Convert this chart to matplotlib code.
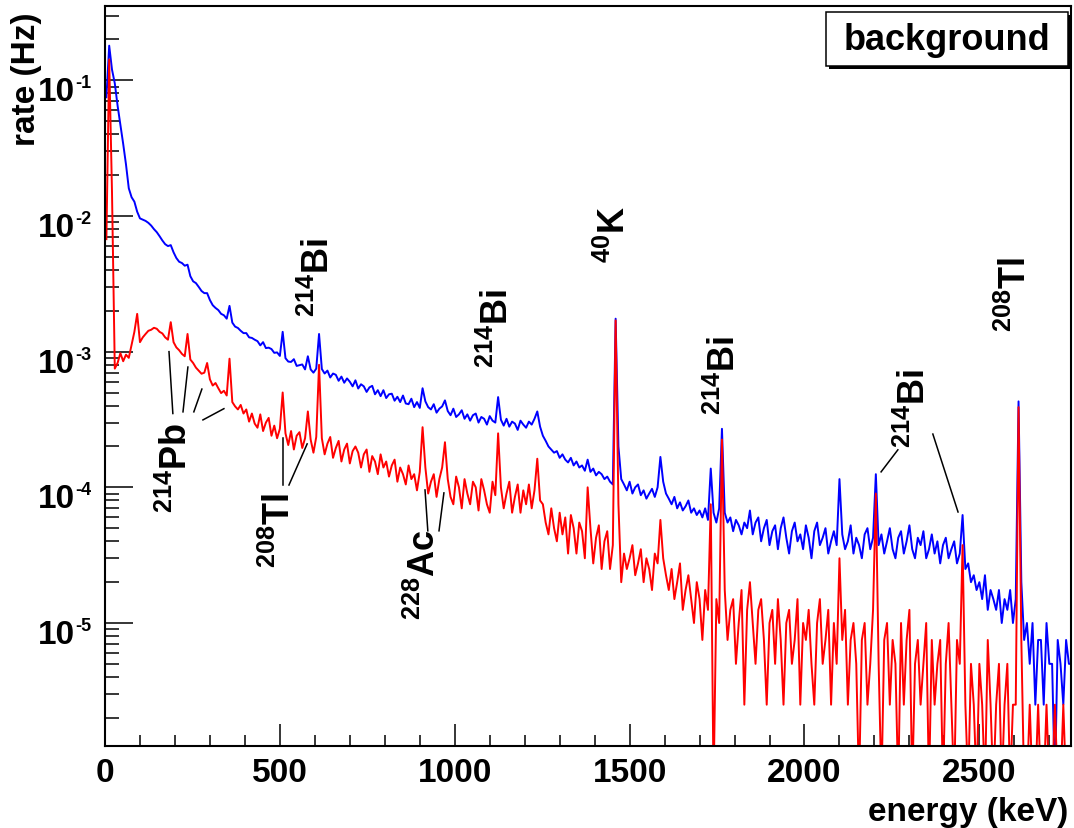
import numpy as np
import matplotlib
matplotlib.use('Agg')
import matplotlib.pyplot as plt
from matplotlib.patches import Rectangle
from matplotlib.ticker import LogLocator, NullFormatter
from matplotlib.transforms import offset_copy

plt.rcParams['font.family'] = ['Liberation Sans', 'DejaVu Sans']
plt.rcParams['font.weight'] = 'bold'
plt.rcParams['mathtext.fontset'] = 'custom'
plt.rcParams['mathtext.rm'] = 'Liberation Sans'
plt.rcParams['mathtext.bf'] = 'Liberation Sans:bold'

# spectra in 8 keV bins starting at 0 keV, contents in counts
BIN_KEV = 8
COUNT_RATE = 2.5e-6  # Hz per count

blue_counts = [
    30000, 72000, 48000, 38000, 26000, 18800, 13600, 9600, 6400, 5500,   # 0
    5100, 4300, 3840, 3760, 3680, 3560, 3400, 3200, 3040, 2840,          # 80
    2640, 2480, 2400, 2440, 2160, 1960, 1840, 1800, 1720, 1750,          # 160
    1440, 1320, 1280, 1200, 1120, 1080, 1080, 960, 880, 840,             # 240
    810, 760, 742, 700, 870, 655, 612, 598, 570, 548,                    # 320
    548, 510, 505, 490, 478, 445, 470, 425, 428, 418,                    # 400
    392, 395, 372, 560, 358, 338, 336, 352, 314, 318,                    # 480
    322, 296, 370, 296, 280, 300, 540, 298, 276, 290,                    # 560
    258, 276, 270, 244, 262, 236, 254, 240, 222, 246,                    # 640
    214, 230, 222, 202, 218, 224, 194, 208, 188, 208,                    # 720
    182, 194, 196, 174, 186, 170, 190, 166, 164, 180,                    # 800
    156, 170, 154, 215, 172, 156, 150, 164, 142, 152,                    # 880
    158, 175, 146, 136, 152, 132, 138, 148, 128, 138,                    # 960
    124, 136, 140, 120, 132, 128, 116, 134, 124, 120,                    # 1040
    185, 126, 114, 128, 112, 122, 118, 106, 124, 116,                    # 1120
    110, 122, 116, 128, 145, 112, 96, 88, 80, 76,                        # 1200
    72, 74, 66, 70, 64, 61, 66, 58, 62, 56,                              # 1280
    58, 53, 64, 52, 55, 49, 52, 50, 46, 48,                              # 1360
    44, 42, 700, 80, 46, 42, 38, 44, 36, 40,                             # 1440
    42, 35, 38, 33, 36, 39, 34, 40, 67, 44,                              # 1520
    36, 33, 30, 34, 28, 31, 27, 29, 32, 26,                              # 1600
    28, 25, 27, 24, 28, 23, 55, 26, 22, 28,                              # 1680
    108, 26, 22, 24, 19, 23, 21, 18, 22, 20,                             # 1760
    27, 18, 22, 24, 16, 20, 23, 15, 19, 21,                              # 1840
    14, 20, 24, 17, 13, 19, 22, 16, 18, 14,                              # 1920
    21, 17, 12, 19, 22, 15, 17, 20, 13, 16,                              # 2000
    19, 15, 46, 18, 14, 16, 21, 13, 17, 15,                              # 2080
    12, 18, 20, 14, 17, 50, 15, 18, 13, 16,                              # 2160
    20, 14, 12, 17, 19, 13, 16, 21, 14, 12,                              # 2240
    17, 15, 19, 12, 14, 18, 13, 16, 11, 15,                              # 2320
    17, 12, 14, 16, 11, 13, 25, 10, 11, 8,                               # 2400
    9, 7, 8, 6, 9, 5, 7, 6, 5, 7,                                        # 2480
    4, 6, 5, 7, 4, 6, 172, 8, 3, 4,                                      # 2560
    2, 4, 1, 3, 3, 1, 4, 2, 2, 0,                                        # 2640
    3, 2, 1, 3, 2, 2,                                                    # 2720
]

red_counts = [
    2700, 57000, 6000, 300, 330, 390, 340, 380, 360, 450,                # 0
    560, 760, 470, 510, 540, 570, 580, 600, 590, 560,                    # 80
    545, 510, 490, 660, 470, 430, 410, 385, 370, 540,                    # 160
    350, 330, 305, 290, 275, 280, 330, 250, 225, 235,                    # 240
    215, 198, 206, 190, 355, 170, 158, 150, 162, 140,                    # 320
    150, 122, 140, 118, 110, 138, 104, 120, 130, 96,                     # 400
    114, 92, 108, 200, 100, 82, 104, 76, 96, 102,                        # 480
    78, 92, 145, 90, 72, 94, 320, 92, 70, 84,                            # 560
    94, 66, 78, 88, 62, 76, 84, 60, 74, 80,                              # 640
    72, 56, 70, 76, 52, 68, 62, 50, 70, 56,                              # 720
    62, 48, 58, 64, 44, 56, 50, 42, 58, 46,                              # 800
    50, 38, 52, 111, 56, 36, 44, 50, 34, 46,                             # 880
    56, 86, 46, 34, 30, 48, 40, 28, 46, 36,                              # 960
    30, 44, 40, 27, 46, 38, 30, 26, 44, 35,                              # 1040
    100, 40, 28, 36, 44, 26, 34, 42, 26, 38,                             # 1120
    30, 42, 28, 38, 65, 32, 30, 22, 18, 28,                              # 1200
    20, 16, 26, 18, 24, 13, 25, 20, 13, 22,                              # 1280
    19, 12, 40, 20, 11, 17, 21, 10, 16, 19,                              # 1360
    10, 15, 680, 30, 8, 13, 10, 12, 15, 9,                               # 1440
    11, 14, 8, 12, 10, 7, 13, 11, 23, 12,                                # 1520
    9, 7, 10, 6, 8, 11, 5, 7, 9, 6,                                      # 1600
    4, 8, 6, 3, 7, 5, 30, 0, 6, 4,                                       # 1680
    90, 7, 3, 5, 6, 2, 4, 7, 1, 5,                                       # 1760
    8, 4, 2, 5, 6, 3, 1, 4, 5, 2,                                        # 1840
    6, 3, 1, 4, 5, 2, 3, 6, 1, 4,                                        # 1920
    3, 5, 2, 1, 4, 6, 2, 3, 5, 1,                                        # 2000
    4, 2, 12, 3, 5, 1, 3, 4, 2, 0,                                       # 2080
    3, 4, 1, 2, 5, 36, 2, 0, 3, 4,                                       # 2160
    1, 3, 2, 0, 4, 1, 3, 5, 0, 2,                                        # 2240
    3, 1, 2, 4, 0, 3, 1, 2, 3, 0,                                        # 2320
    2, 4, 1, 0, 3, 2, 15, 1, 0, 2,                                       # 2400
    1, 0, 2, 1, 0, 3, 1, 0, 1, 2,                                        # 2480
    0, 1, 2, 0, 1, 1, 156, 3, 0, 0,                                      # 2560
    1, 0, 0, 1, 0, 0, 1, 0, 0, 1,                                        # 2640
    0, 0, 1, 0, 0, 0,                                                    # 2720
]

y_decades = [1e-5, 1e-4, 1e-3, 1e-2, 1e-1]
y_exponents = ['-5', '-4', '-3', '-2', '-1']

# isotope labels: (text, energy keV, rate Hz) -> bottom centre of rotated label
isotopes = [
    (r'$^{214}$Bi', 612, 1.83e-3),
    (r'$^{214}$Bi', 1122, 7.7e-4),
    (r'$^{40}$K', 1458, 4.6e-3),
    (r'$^{214}$Bi', 1772, 3.47e-4),
    (r'$^{214}$Bi', 2316, 1.99e-4),
    (r'$^{208}$Tl', 2604, 1.42e-3),
    (r'$^{214}$Pb', 206, 6.6e-5),
    (r'$^{208}$Tl', 500, 2.59e-5),
    (r'$^{228}$Ac', 915, 1.07e-5),
]

# pointer lines from labels to peaks: (E1, R1, E2, R2)
pointers = [
    (194, 3.5e-4, 183, 1.0e-3),
    (223, 3.6e-4, 237, 7.7e-4),
    (254, 3.6e-4, 277, 5.3e-4),
    (280, 3.14e-4, 340, 3.8e-4),
    (509, 1.04e-4, 509, 2.31e-4),
    (526, 1.04e-4, 578, 2.09e-4),
    (923, 4.78e-5, 915, 9.57e-5),
    (955, 4.78e-5, 969, 9.1e-5),
    (2267, 1.89e-4, 2219, 1.30e-4),
    (2367, 2.47e-4, 2439, 6.58e-5),
]

XMAX = 2762
YMIN, YMAX = 1.24e-6, 0.353

W, H = 1074, 829
fig = plt.figure(figsize=(W / 100, H / 100), dpi=100)
ax = fig.add_axes([105 / W, 1 - 747 / H, (1071 - 105) / W, (747 - 7) / H])


def spectrum(counts):
    e = np.arange(len(counts)) * BIN_KEV + BIN_KEV / 2
    r = np.array(counts, dtype=float) * COUNT_RATE
    r[r <= 0] = YMIN * 0.5  # empty bins drop to the frame bottom
    return e, r


e_b, r_b = spectrum(blue_counts)
e_r, r_r = spectrum(red_counts)
ax.plot(e_b, r_b, color='#0000ff', lw=1.4)
ax.plot(e_r, r_r, color='#ff0000', lw=1.4)

ax.set_yscale('log')
ax.set_xlim(0, XMAX)
ax.set_ylim(YMIN, YMAX)

ax.set_xticks(np.arange(0, 2501, 500))
ax.set_xticks(np.arange(0, XMAX, 100), minor=True)
ax.yaxis.set_major_locator(LogLocator(base=10))
ax.yaxis.set_minor_locator(LogLocator(base=10, subs=np.arange(2, 10)))
ax.yaxis.set_minor_formatter(NullFormatter())
ax.tick_params(axis='x', which='major', direction='in', length=16, width=1.1,
               labelsize=24, pad=8, top=False)
ax.tick_params(axis='x', which='minor', direction='in', length=8, width=1.1, top=False)
ax.tick_params(axis='y', which='major', direction='in', length=20, width=1.1,
               right=False, labelleft=False)
ax.tick_params(axis='y', which='minor', direction='in', length=10, width=1.1,
               right=False, labelleft=False)
for sp in ax.spines.values():
    sp.set_linewidth(1.5)

# y tick labels like 10^-3 (ROOT style)
base_tr = ax.get_yaxis_transform()
tr_base = offset_copy(base_tr, fig=fig, x=-30, y=-20, units='dots')
tr_exp = offset_copy(base_tr, fig=fig, x=-30, y=-7, units='dots')
for val, ex in zip(y_decades, y_exponents):
    ax.text(0, val, '10', transform=tr_base, ha='right', va='baseline',
            fontsize=24, fontweight='bold', clip_on=False)
    ax.text(0, val, ex, transform=tr_exp, ha='left', va='baseline',
            fontsize=13, fontweight='bold', clip_on=False)

for txt, e, r in isotopes:
    ax.text(e, r, txt, rotation=90, ha='center', va='bottom',
            fontsize=26, fontweight='bold')

for e1, r1, e2, r2 in pointers:
    ax.plot([e1, e2], [r1, r2], color='black', lw=1.1)

fig.text(11 / W, 1 - 12 / H, 'rate (Hz)', rotation=90, ha='left', va='top',
         fontsize=24, fontweight='bold')
fig.text(1068 / W, 1 - 797 / H, 'energy (keV)', ha='right', va='top',
         fontsize=24, fontweight='bold')

# "background" title box with shadow
fig.add_artist(Rectangle((829 / W, 1 - 70 / H), 242 / W, 54 / H,
                         transform=fig.transFigure, facecolor='black',
                         edgecolor='black', lw=0))
fig.add_artist(Rectangle((826 / W, 1 - 67 / H), 242 / W, 54 / H,
                         transform=fig.transFigure, facecolor='white',
                         edgecolor='black', lw=1.1))
fig.text(947 / W, 1 - 40 / H, 'background', ha='center', va='center',
         fontsize=26, fontweight='bold')

fig.savefig('out.png', dpi=100)
